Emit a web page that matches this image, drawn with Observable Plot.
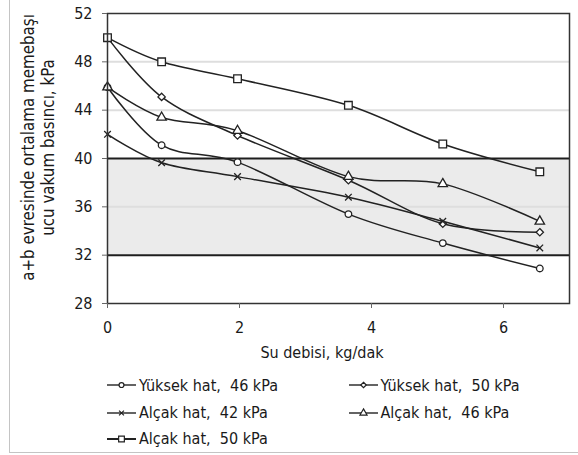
<!DOCTYPE html>
<html><head><meta charset="utf-8">
<script src="https://cdn.jsdelivr.net/npm/d3@7"></script>
<script src="https://cdn.jsdelivr.net/npm/@observablehq/plot@0.6"></script>
<style>
body{margin:0;background:#fff;}
#wrap{position:relative;width:578px;height:455px;overflow:hidden;font-family:"DejaVu Sans Condensed","DejaVu Sans",sans-serif;font-stretch:condensed;color:#1a1a1a}
#bl{position:absolute;left:9px;top:0;width:1px;height:453px;background:#c4c4c4}
#bb{position:absolute;left:9px;top:452px;width:569px;height:1px;background:#c4c4c4}
#chart{position:absolute;left:0;top:0}
.item{position:absolute;height:20px;display:flex;align-items:center;font-size:16px;white-space:pre}
.item svg{margin-right:3px}
</style></head>
<body><div id="wrap"><div id="chart"></div><div id="legend"></div><div id="bl"></div><div id="bb"></div></div>
<script>
// ---- data ----
const xs = [0, 0.82, 1.97, 3.65, 5.08, 6.55];
const seriesNames = ["Yüksek hat,  46 kPa", "Yüksek hat,  50 kPa", "Alçak hat,  42 kPa", "Alçak hat,  46 kPa", "Alçak hat,  50 kPa"];
const yuksek46 = [45.9, 41.1, 39.7, 35.4, 33.0, 30.9];
const yuksek50 = [50.0, 45.1, 41.9, 38.2, 34.6, 33.9];
const alcak42  = [42.0, 39.65, 38.5, 36.8, 34.8, 32.6];
const alcak46  = [45.9, 43.4, 42.3, 38.5, 37.9, 34.8];
const alcak50  = [50.0, 48.0, 46.6, 44.4, 41.2, 38.9];
const seriesValues = [yuksek46, yuksek50, alcak42, alcak46, alcak50];
const symbols = ["circle", "diamond2", "times", "triangle", "square"];
const markerR = [3.3, 3.3, 3.1, 3.5, 4.3];
const xTicks = [0, 2, 4, 6];
const yTicks = [28, 32, 36, 40, 44, 48, 52];
const gridLines = [36, 44, 48];
const bandLow = 32, bandHigh = 40;
const xDomain = [0, 7], yDomain = [28, 52];
const xTitle = "Su debisi, kg/dak";
const yTitle1 = "a+b evresinde ortalama memebaşı";
const yTitle2 = "ucu vakum basıncı, kPa";

const rows = seriesNames.flatMap((s, i) => xs.map((x, j) => ({series: s, x, y: seriesValues[i][j]})));

const dots = seriesNames.map((s, i) => Plot.dot(rows.filter(d => d.series === s), {
  x: "x", y: "y", symbol: () => symbols[i], r: markerR[i], fill: "white", stroke: "#222", strokeWidth: 1.3
}));

const chart = Plot.plot({
  width: 578, height: 365,
  marginLeft: 107, marginRight: 9, marginTop: 13, marginBottom: 62,
  style: {fontFamily: '"DejaVu Sans Condensed","DejaVu Sans",sans-serif', fontSize: "16px", color: "#1a1a1a", background: "transparent"},
  x: {domain: xDomain},
  y: {domain: yDomain},
  symbol: {type: "identity"},
  marks: [
    Plot.rect([{y1: bandLow, y2: bandHigh}], {y1: "y1", y2: "y2", fill: "#ebebeb"}),
    Plot.ruleY(gridLines, {stroke: "#dedede", strokeWidth: 2}),
    Plot.ruleY([bandLow, bandHigh], {stroke: "#1e1e1e", strokeWidth: 2}),
    Plot.line(rows, {x: "x", y: "y", z: "series", curve: "cardinal", tension: 0, stroke: "#222", strokeWidth: 1.5}),
    ...dots,
    Plot.frame({stroke: "#333", strokeWidth: 1.5}),
    Plot.axisX(xTicks, {tickSize: 5, tickPadding: 13, fontSize: 16, label: null, stroke: "#666"}),
    Plot.axisY(yTicks, {tickSize: 5, tickPadding: 10, fontSize: 16, label: null, stroke: "#666"}),
    Plot.text([xTitle], {text: d => d, frameAnchor: "bottom", dy: 49, dx: -16.5, fontSize: 16, lineAnchor: "middle"}),
    Plot.text([yTitle1], {text: d => d, frameAnchor: "left", textAnchor: "middle", rotate: -90, dx: -79, dy: -11, fontSize: 16.8}),
    Plot.text([yTitle2], {text: d => d, frameAnchor: "left", textAnchor: "middle", rotate: -90, dx: -59, dy: -11, fontSize: 16.8})
  ]
});
document.getElementById("chart").appendChild(chart);

// ---- legend ----
const legendPos = [[107, 385], [348.5, 385], [107, 412.7], [348.5, 412.7], [107, 438.5]];
const legendSymbols = {circle: d3.symbolCircle, diamond2: d3.symbolDiamond2, times: d3.symbolTimes, triangle: d3.symbolTriangle, square: d3.symbolSquare};
const legend = d3.select("#legend");
seriesNames.forEach((s, i) => {
  const item = legend.append("div").attr("class", "item")
    .style("left", legendPos[i][0] + "px").style("top", (legendPos[i][1] - 10) + "px");
  const svg = item.append("svg").attr("width", 29).attr("height", 20);
  svg.append("line").attr("x1", 0).attr("x2", 29).attr("y1", 10).attr("y2", 10)
    .attr("stroke", "#222").attr("stroke-width", i === 4 ? 2 : 1.4);
  const r = markerR[i] * 0.75;
  svg.append("path").attr("transform", "translate(14.5,10)")
    .attr("d", d3.symbol(legendSymbols[symbols[i]], Math.PI * r * r)())
    .attr("fill", "white").attr("stroke", "#222").attr("stroke-width", 1.2);
  item.append("span").text(s);
});
</script></body></html>
